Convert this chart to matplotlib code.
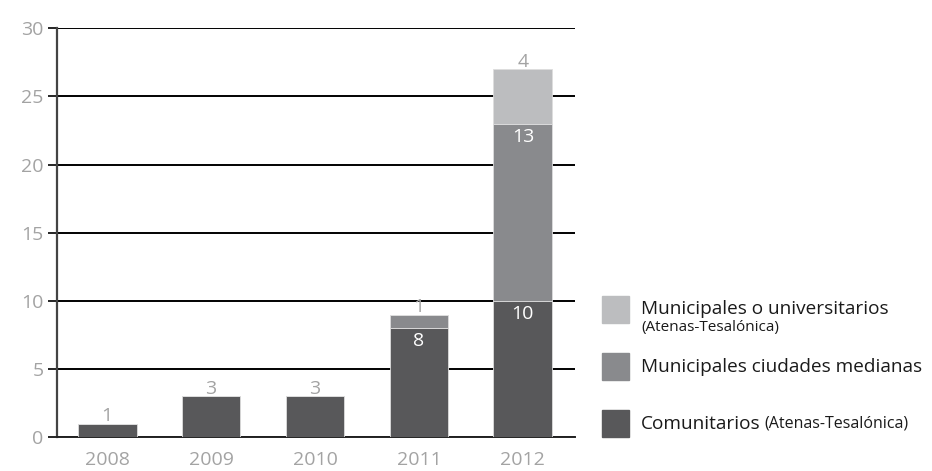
import matplotlib
matplotlib.use('Agg')
import matplotlib.pyplot as plt
from matplotlib.patches import Rectangle
import numpy as np

plt.rcParams['font.family'] = ['Open Sans', 'DejaVu Sans']

years = ['2008', '2009', '2010', '2011', '2012']
comunitarios = [1, 3, 3, 8, 10]
medianas = [0, 0, 0, 1, 13]
universitarios = [0, 0, 0, 0, 4]
legend_labels = ['Municipales o universitarios', 'Municipales ciudades medianas', 'Comunitarios']
legend_sub = ['(Atenas-Tesalónica)', '', '(Atenas-Tesalónica)']

c_dark = '#58585a'
c_mid = '#898a8d'
c_light = '#bcbdbf'
c_label = '#a3a3a3'
c_text = '#1a1a1a'

W, H = 932, 471
fig = plt.figure(figsize=(W / 100, H / 100), dpi=100)
ax = fig.add_axes([56.7 / W, 1 - 437.3 / H, (575 - 56.7) / W, (437.3 - 28.3) / H])

x = np.arange(len(years))
bw = 0.565
bot = np.array(comunitarios)
mid = np.array(medianas)
top = np.array(universitarios)
ax.bar(x, bot, bw, color=c_dark, edgecolor='#dddddd', linewidth=0.6, zorder=3)
ax.bar(x, mid, bw, bottom=bot, color=c_mid, edgecolor='#dddddd', linewidth=0.6, zorder=3)
ax.bar(x, top, bw, bottom=bot + mid, color=c_light, edgecolor='#dddddd', linewidth=0.6, zorder=3)

ax.set_xlim(-0.486, 4.502)
ax.set_ylim(0, 30)
ax.set_yticks(range(0, 31, 5))
ax.set_xticks(x)
ax.set_xticklabels(years)
ax.yaxis.grid(True, color='black', linewidth=1.4, zorder=1)
ax.set_axisbelow(True)
for s in ['top', 'right']:
    ax.spines[s].set_visible(False)
ax.spines['left'].set_color('#444444')
ax.spines['left'].set_linewidth(1.6)
ax.spines['bottom'].set_color('#222222')
ax.spines['bottom'].set_linewidth(1.4)
ax.tick_params(axis='y', length=6.5, width=1.2, color='black', labelcolor=c_label,
               labelsize=14, pad=3)
ax.tick_params(axis='x', length=0, labelcolor=c_label, labelsize=14, pad=10)

# value labels
total = bot + mid + top
for i in range(len(years)):
    if top[i] > 0:
        above = top[i]
    elif mid[i] > 0:
        above = mid[i]
    else:
        above = bot[i]
    ax.text(x[i], total[i] - 0.1, str(above), ha='center', va='bottom', color=c_label,
            fontsize=14, zorder=4)
    if mid[i] > 0:
        ax.text(x[i], bot[i] - 0.3, str(bot[i]), ha='center', va='top', color='white',
                fontsize=14, zorder=4)
    if top[i] > 0:
        ax.text(x[i], bot[i] + mid[i] - 0.3, str(mid[i]), ha='center', va='top',
                color='white', fontsize=14, zorder=4)

# legend drawn by hand
sq = 27
leg_colors = [c_light, c_mid, c_dark]
sq_tops = [296, 353, 410]
for col, ty in zip(leg_colors, sq_tops):
    fig.add_artist(Rectangle((602 / W, 1 - (ty + sq) / H), sq / W, sq / H,
                             transform=fig.transFigure, color=col))

fs_main = 13.7
fig.text(641 / W, 1 - 309 / H, legend_labels[0], fontsize=fs_main, va='center', color=c_text)
fig.text(641 / W, 1 - 328 / H, legend_sub[0], fontsize=11, va='center', color=c_text)
fig.text(641 / W, 1 - 367 / H, legend_labels[1], fontsize=fs_main, va='center', color=c_text)
t = fig.text(641 / W, 1 - 424 / H, legend_labels[2], fontsize=fs_main, va='center', color=c_text)
fig.canvas.draw()
x1 = t.get_window_extent().x1
fig.text((x1 + 4) / W, 1 - 424 / H, legend_sub[2], fontsize=11.5, va='center', color=c_text)

fig.savefig('out.png', dpi=100)
